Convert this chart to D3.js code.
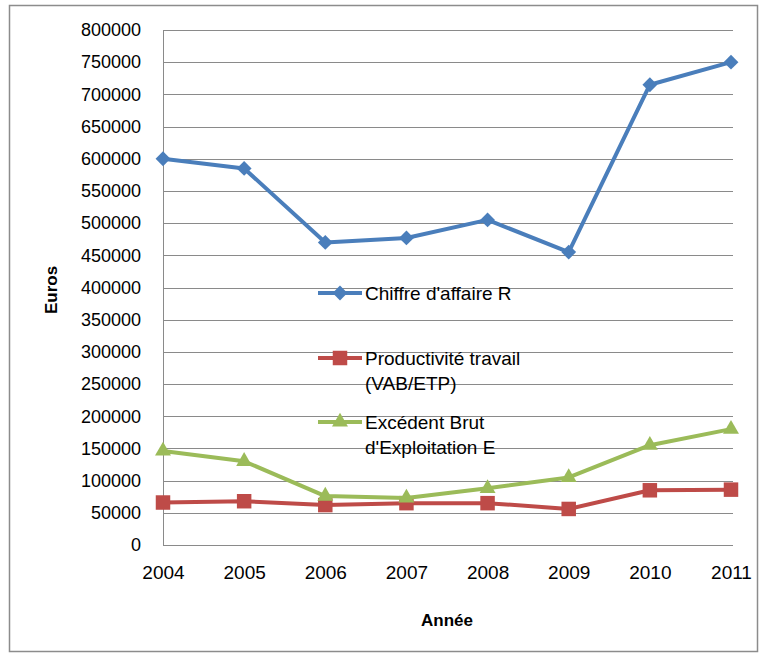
<!DOCTYPE html>
<html><head><meta charset="utf-8">
<script src="https://cdn.jsdelivr.net/npm/d3@7"></script>
<style>body{margin:0;background:#fff}text{font-family:"Liberation Sans",Arial,sans-serif}</style>
</head><body><svg id="c" width="764" height="655"></svg>
<script>
const years = ["2004","2005","2006","2007","2008","2009","2010","2011"];
const chiffreAffaire = [600000,585000,470000,477000,505000,455000,715000,750000];
const productivite = [66000,68000,62000,65000,65000,56000,85000,86000];
const excedentBrut = [146000,130000,76000,73000,88000,105000,155000,180000];
const yTicks = [0,50000,100000,150000,200000,250000,300000,350000,400000,450000,500000,550000,600000,650000,700000,750000,800000];
const seriesNames = ["Chiffre d'affaire R","Productivité travail|(VAB/ETP)","Excédent Brut|d'Exploitation E"];
const colors = ["#4A7EBB","#BE4B48","#9BBB59"];

const svg = d3.select("#c");
svg.append("rect").attr("x",9.5).attr("y",5.5).attr("width",748).attr("height",646)
  .attr("fill","none").attr("stroke","#8c8c8c").attr("stroke-width",1.5);

const x = d3.scalePoint().domain(years).range([163,731]);
const y = d3.scaleLinear().domain([0,800000]).range([545,30]);

svg.append("g").selectAll("line").data(yTicks.filter(d=>d>0)).join("line")
  .attr("x1",163).attr("x2",733).attr("y1",d=>Math.round(y(d))+0.5).attr("y2",d=>Math.round(y(d))+0.5)
  .attr("stroke","#8a8a8a").attr("stroke-width",1);
svg.append("line").attr("x1",163.5).attr("x2",163.5).attr("y1",30).attr("y2",545).attr("stroke","#8a8a8a");
svg.append("line").attr("x1",163).attr("x2",733).attr("y1",545.5).attr("y2",545.5).attr("stroke","#8a8a8a");

const yAxis = d3.axisLeft(y).tickValues(yTicks).tickSize(0).tickPadding(0).tickFormat(d3.format("d"));
const gy = svg.append("g").attr("transform","translate(141,0)").call(yAxis);
gy.select(".domain").remove();
gy.selectAll("text").attr("font-size","18px").attr("fill","#000").attr("font-family","Liberation Sans, Arial, sans-serif");

const xAxis = d3.axisBottom(x).tickSize(0).tickPadding(0);
const gx = svg.append("g").attr("transform","translate(0,565)").call(xAxis);
gx.select(".domain").remove();
gx.selectAll("text").attr("font-size","19px").attr("fill","#000").attr("font-family","Liberation Sans, Arial, sans-serif");

svg.append("text").attr("x",447).attr("y",626).attr("text-anchor","middle")
  .attr("font-size","17px").attr("font-weight","bold").text("Année");
svg.append("text").attr("transform","translate(57,290) rotate(-90)").attr("text-anchor","middle")
  .attr("font-size","17px").attr("font-weight","bold").text("Euros");

const data = [chiffreAffaire, productivite, excedentBrut];
const line = d3.line().x((d,i)=>x(years[i])).y(d=>y(d));
const symbols = [d3.symbolSquare, d3.symbolSquare, d3.symbolTriangle];
const symSize = [110, 210, 110];
const symRot = [45, 0, 0];

data.forEach((vals,k)=>{
  svg.append("path").datum(vals).attr("d",line).attr("fill","none")
    .attr("stroke",colors[k]).attr("stroke-width",4).attr("stroke-linejoin","round");
  svg.append("g").selectAll("path").data(vals).join("path")
    .attr("transform",(d,i)=>`translate(${x(years[i])},${y(d)}) rotate(${symRot[k]})`)
    .attr("d",d3.symbol().type(symbols[k]).size(symSize[k]))
    .attr("fill",colors[k]);
});

const legY = [293,358,422];
seriesNames.forEach((name,k)=>{
  const g = svg.append("g");
  g.append("line").attr("x1",318).attr("x2",362).attr("y1",legY[k]).attr("y2",legY[k])
    .attr("stroke",colors[k]).attr("stroke-width",4);
  g.append("path").attr("transform",`translate(340,${legY[k]}) rotate(${symRot[k]})`)
    .attr("d",d3.symbol().type(symbols[k]).size(symSize[k])).attr("fill",colors[k]);
  name.split("|").forEach((t,j)=>{
    g.append("text").attr("x",365).attr("y",legY[k]+7+j*25).attr("font-size","19px").attr("fill","#000").text(t);
  });
});
</script></body></html>
